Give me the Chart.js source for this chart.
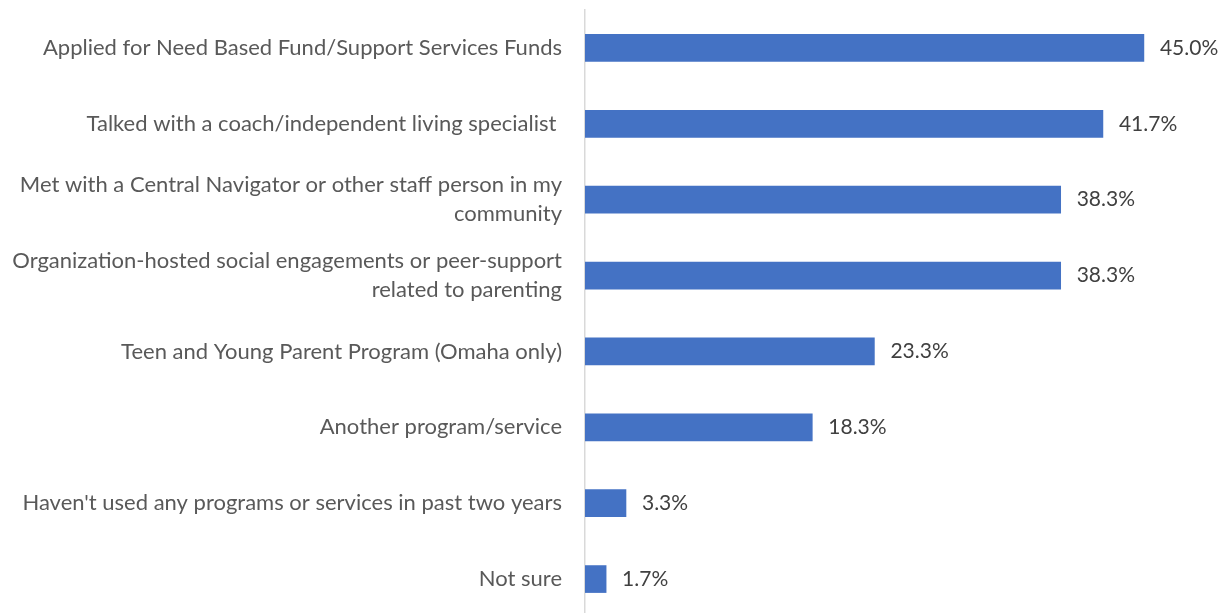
<!DOCTYPE html>
<html lang="en">
<head>
    <meta charset="UTF-8">
    <title>Programs and services used</title>
    <script src="https://cdn.jsdelivr.net/npm/chart.js"></script>
    <style>
        html, body { margin: 0; padding: 0; background: #ffffff; overflow: hidden; }
        /* the plot runs a few pixels past the bottom edge */
        #wrap { width: 1229px; height: 617px; }
    </style>
</head>
<body>
    <div id="wrap"><canvas id="servicesChart"></canvas></div>
    <script>
        // answers, top to bottom; long ones split over two lines
        const categories = [
            "Applied for Need Based Fund/Support Services Funds",
            "Talked with a coach/independent living specialist ",
            ["Met with a Central Navigator or other staff person in my", "community"],
            ["Organization-hosted social engagements or peer-support", "related to parenting"],
            "Teen and Young Parent Program (Omaha only)",
            "Another program/service",
            "Haven't used any programs or services in past two years",
            "Not sure"
        ];
        const percents = [45.0, 41.7, 38.3, 38.3, 23.3, 18.3, 3.3, 1.7];

        const fontFamily = "Lato, 'Open Sans', sans-serif";

        // writes "xx.x%" just right of each bar end
        const valueLabels = {
            id: "valueLabels",
            afterDatasetsDraw(chart) {
                const ctx = chart.ctx;
                const xScale = chart.scales.x;
                const meta = chart.getDatasetMeta(0);
                ctx.save();
                ctx.font = "21px " + fontFamily;
                ctx.fillStyle = "#404040";
                ctx.textAlign = "left";
                ctx.textBaseline = "middle";
                meta.data.forEach((bar, i) => {
                    const x = xScale.getPixelForValue(percents[i]) + 16;
                    ctx.fillText(percents[i].toFixed(1) + "%", x, bar.y);
                });
                ctx.restore();
            }
        };

        const ctx = document.getElementById("servicesChart").getContext("2d");
        const chart = new Chart(ctx, {
            type: "bar",
            data: {
                labels: categories,
                datasets: [{
                    data: percents,
                    backgroundColor: "#4472C4",
                    borderWidth: 0,
                    barThickness: 27
                }]
            },
            options: {
                indexAxis: "y",
                responsive: true,
                maintainAspectRatio: false,
                animation: false,
                layout: { padding: { top: 10, right: 23, bottom: 0, left: 0 } },
                plugins: {
                    legend: { display: false },
                    tooltip: { enabled: false }
                },
                scales: {
                    x: {
                        display: false,
                        min: 0,
                        max: 50
                    },
                    y: {
                        afterFit(scale) {
                            scale.width = 585;
                            // keep the plot running the full height
                            scale.paddingTop = 0;
                            scale.paddingBottom = 0;
                        },
                        grid: { display: false, drawTicks: false },
                        border: { display: true, color: "#d9d9d9", width: 1.5 },
                        ticks: {
                            color: "#595959",
                            padding: 23,
                            font: { family: fontFamily, size: 22, lineHeight: 1.3 }
                        }
                    }
                }
            },
            plugins: [valueLabels]
        });
    </script>
</body>
</html>
